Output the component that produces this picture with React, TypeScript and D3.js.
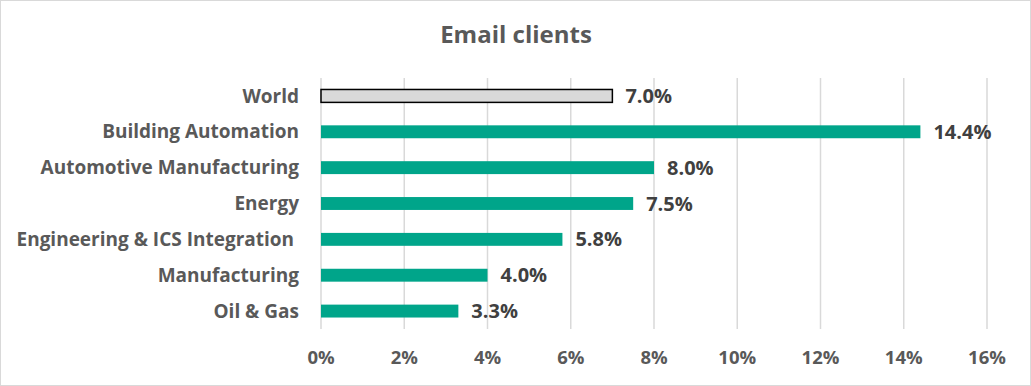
import React, { useEffect, useRef } from "react";
import * as d3 from "d3";

const categories = [
  "World",
  "Building Automation",
  "Automotive Manufacturing",
  "Energy",
  "Engineering & ICS Integration ",
  "Manufacturing",
  "Oil & Gas",
];
const values = [7.0, 14.4, 8.0, 7.5, 5.8, 4.0, 3.3];
const ticks = [0, 2, 4, 6, 8, 10, 12, 14, 16];
const title = "Email clients";

const W = 1031;
const H = 386;
const FONT = "'Open Sans', Lato, sans-serif";

const App = () => {
  const ref = useRef<SVGSVGElement>(null);

  useEffect(() => {
    const svg = d3.select(ref.current);
    svg.selectAll("*").remove();

    const x = d3.scaleLinear().domain([0, 16]).range([321, 987]);
    const y = d3
      .scaleBand()
      .domain(categories)
      .range([78, 329])
      .paddingInner(0.64)
      .paddingOuter(0.32);

    svg
      .append("rect")
      .attr("x", 0.5)
      .attr("y", 0.5)
      .attr("width", W - 1)
      .attr("height", H - 1)
      .attr("fill", "#fff")
      .attr("stroke", "#d9d9d9");

    svg
      .append("text")
      .attr("x", 516)
      .attr("y", 43)
      .attr("text-anchor", "middle")
      .attr("font-family", FONT)
      .attr("font-weight", "bold")
      .attr("font-size", 24)
      .attr("fill", "#595959")
      .text(title);

    // gridlines
    svg
      .append("g")
      .selectAll("line")
      .data(ticks)
      .enter()
      .append("line")
      .attr("x1", (d) => x(d))
      .attr("x2", (d) => x(d))
      .attr("y1", 78)
      .attr("y2", 329)
      .attr("stroke", "#d9d9d9")
      .attr("stroke-width", 1.5);

    // tick labels
    svg
      .append("g")
      .selectAll("text")
      .data(ticks)
      .enter()
      .append("text")
      .attr("x", (d) => x(d))
      .attr("y", 364)
      .attr("text-anchor", "middle")
      .attr("font-family", FONT)
      .attr("font-weight", "bold")
      .attr("font-size", 18.5)
      .attr("fill", "#595959")
      .text((d) => `${d}%`);

    const rows = categories.map((c, i) => ({ c, v: values[i], i }));

    svg
      .append("g")
      .selectAll("rect")
      .data(rows)
      .enter()
      .append("rect")
      .attr("x", x(0))
      .attr("y", (d) => y(d.c)!)
      .attr("width", (d) => x(d.v) - x(0))
      .attr("height", y.bandwidth())
      .attr("fill", (d) => (d.i === 0 ? "#d9d9d9" : "#00a58a"))
      .attr("stroke", (d) => (d.i === 0 ? "#000" : "none"))
      .attr("stroke-width", 1.5);

    // category labels
    svg
      .append("g")
      .selectAll("text")
      .data(rows)
      .enter()
      .append("text")
      .attr("x", 299)
      .attr("y", (d) => y(d.c)! + y.bandwidth() / 2)
      .attr("dy", "0.35em")
      .attr("text-anchor", "end")
      .attr("font-family", FONT)
      .attr("font-weight", "bold")
      .attr("font-size", 19)
      .attr("fill", "#595959")
      .style("white-space", "pre")
      .text((d) => d.c);

    // value labels
    svg
      .append("g")
      .selectAll("text")
      .data(rows)
      .enter()
      .append("text")
      .attr("x", (d) => x(d.v) + 13)
      .attr("y", (d) => y(d.c)! + y.bandwidth() / 2)
      .attr("dy", "0.35em")
      .attr("font-family", FONT)
      .attr("font-weight", "bold")
      .attr("font-size", 20)
      .attr("fill", "#404040")
      .text((d) => `${d.v.toFixed(1)}%`);
  }, []);

  return (
    <svg
      ref={ref}
      width={W}
      height={H}
      style={{ position: "absolute", left: 0, top: 0 }}
    />
  );
};

export default App;
